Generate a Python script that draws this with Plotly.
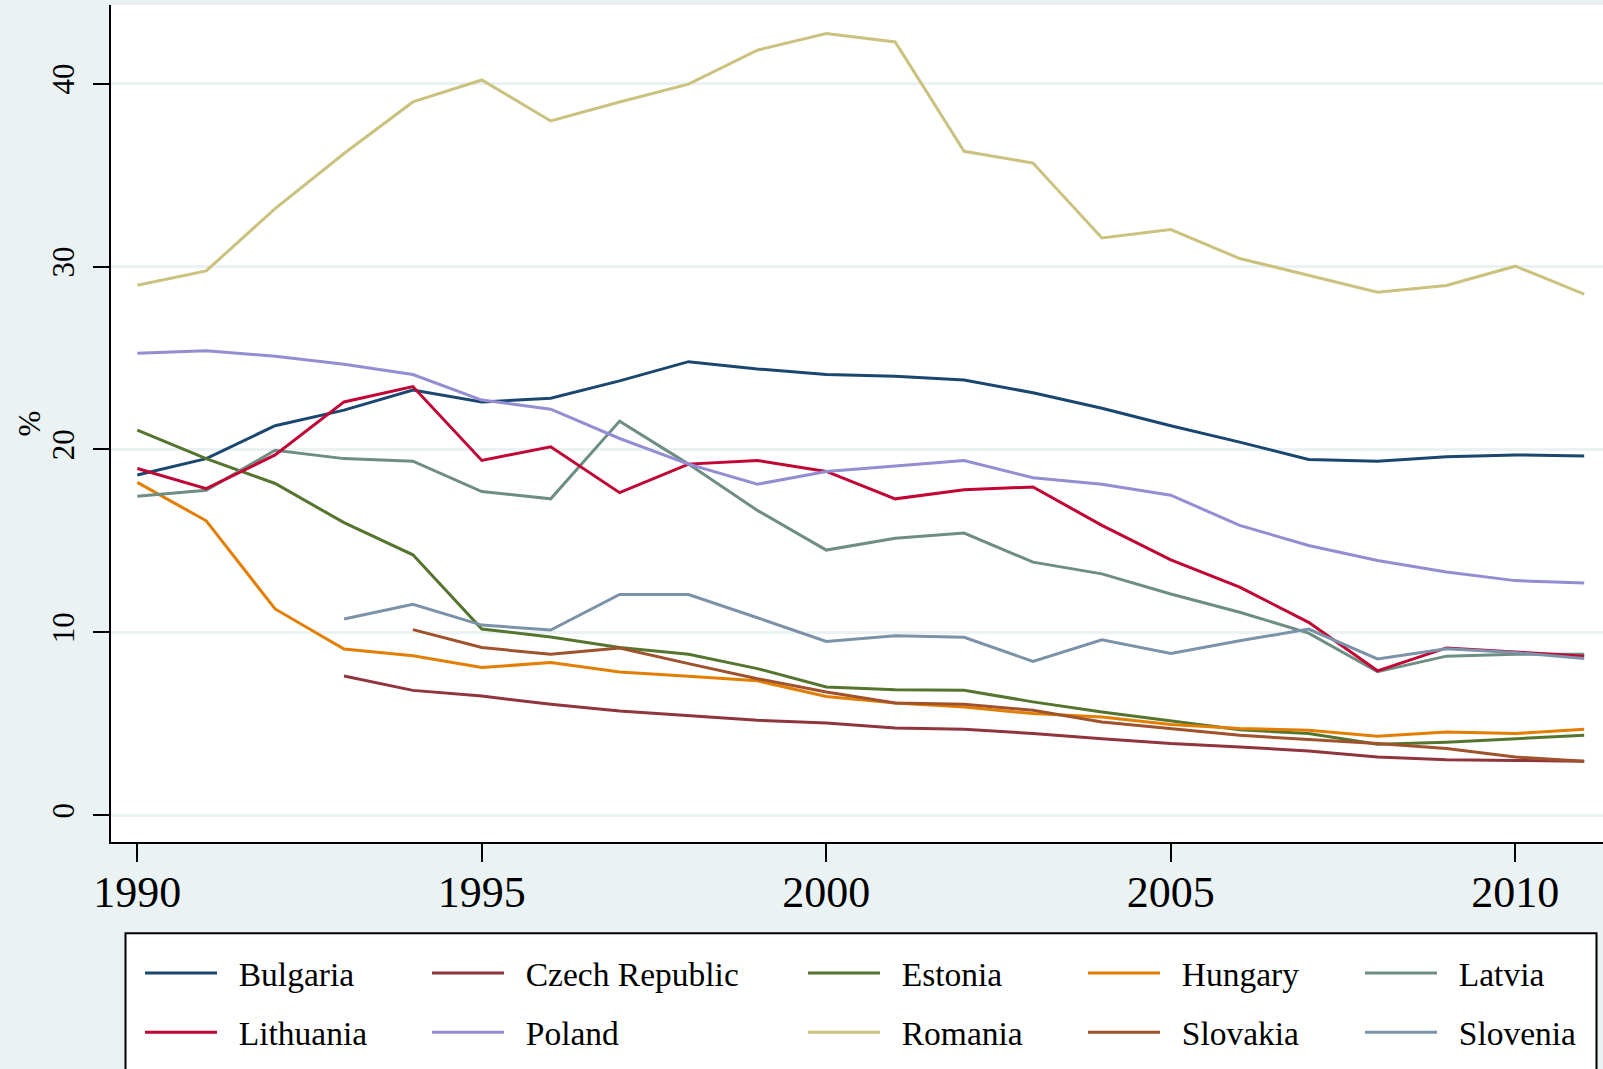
import plotly.graph_objects as go

years = list(range(1990, 2012))

bulgaria = [18.6, 19.5, 21.3, 22.15, 23.25, 22.6, 22.8, 23.75, 24.8, 24.4, 24.1,
            24.0, 23.8, 23.1, 22.25, 21.3, 20.4, 19.45, 19.36, 19.6, 19.7, 19.65]
czech = [None, None, None, 7.62, 6.83, 6.52, 6.07, 5.7, 5.43, 5.19, 5.05,
         4.77, 4.7, 4.47, 4.19, 3.92, 3.74, 3.52, 3.19, 3.04, 3.0, 2.95]
estonia = [21.06, 19.5, 18.14, 16.0, 14.24, 10.18, 9.75, 9.17, 8.8, 8.02, 7.02,
           6.87, 6.83, 6.2, 5.65, 5.16, 4.68, 4.47, 3.88, 4.0, 4.19, 4.37]
hungary = [18.2, 16.1, 11.28, 9.09, 8.72, 8.08, 8.35, 7.84, 7.6, 7.35, 6.5,
           6.14, 5.92, 5.56, 5.38, 4.97, 4.74, 4.65, 4.32, 4.56, 4.47, 4.7]
latvia = [17.44, 17.77, 19.96, 19.5, 19.36, 17.7, 17.3, 21.55, 19.2, 16.67, 14.5,
          15.15, 15.43, 13.84, 13.2, 12.1, 11.1, 9.96, 7.85, 8.7, 8.8, 8.8]
lithuania = [18.96, 17.86, 19.7, 22.6, 23.44, 19.4, 20.15, 17.64, 19.2, 19.4, 18.8,
             17.3, 17.8, 17.95, 15.85, 13.97, 12.47, 10.55, 7.9, 9.15, 8.93, 8.7]
poland = [25.26, 25.4, 25.1, 24.66, 24.1, 22.7, 22.2, 20.6, 19.2, 18.1, 18.8,
          19.1, 19.4, 18.45, 18.1, 17.5, 15.85, 14.75, 13.93, 13.3, 12.83, 12.7]
romania = [28.98, 29.76, 33.17, 36.18, 39.0, 40.2, 37.96, 39.0, 39.97, 41.83, 42.74,
           42.28, 36.3, 35.66, 31.56, 32.02, 30.44, 29.52, 28.6, 28.97, 30.02, 28.49]
slovakia = [None, None, None, None, 10.15, 9.17, 8.8, 9.15, 8.29, 7.47, 6.74,
            6.14, 6.07, 5.74, 5.1, 4.74, 4.37, 4.14, 3.92, 3.65, 3.19, 2.95]
slovenia = [None, None, None, 10.73, 11.54, 10.4, 10.13, 12.07, 12.07, 10.8, 9.5,
            9.82, 9.73, 8.41, 9.6, 8.85, 9.54, 10.18, 8.55, 9.1, 8.9, 8.57]

countries = ['Bulgaria', 'Czech Republic', 'Estonia', 'Hungary', 'Latvia',
             'Lithuania', 'Poland', 'Romania', 'Slovakia', 'Slovenia']
series = [bulgaria, czech, estonia, hungary, latvia,
          lithuania, poland, romania, slovakia, slovenia]
colors = ['#1A476F', '#90353B', '#55752F', '#E37E00', '#6E8E84',
          '#C10534', '#938DD2', '#CAC27E', '#A0522D', '#7B92A8']

BG = '#EAF2F3'
FONT = 'Liberation Serif, Times New Roman, serif'
PAD = '\u00a0\u00a0'  # a little air between legend key and label

# plot area in pixels
W, H = 1603, 1069
L, R, T, B = 111, 0, 5, 227.3
pw, ph = W - L - R, H - T - B

# legend columns (symbol start, px) and rows (centre, px)
col_px = [146, 433, 809, 1089, 1366]
row_px = [973, 1032]

fig = go.Figure()
layout_legends = {}
for i, (name, vals, c) in enumerate(zip(countries, series, colors)):
    key = 'legend' if i == 0 else f'legend{i + 1}'
    fig.add_trace(go.Scatter(
        x=years, y=vals, mode='lines', name=PAD + name,
        line=dict(color=c, width=3),
        legend=key,
    ))
    col, row = i % 5, i // 5
    layout_legends[key] = dict(
        x=(col_px[col] - L - 6) / pw,
        y=(ph + T - row_px[row]) / ph,
        xanchor='left', yanchor='middle',
        orientation='v',
        bgcolor='rgba(0,0,0,0)',
        borderwidth=0,
        itemwidth=72,
        font=dict(family=FONT, size=33.5, color='black'),
    )

fig.update_layout(
    width=W, height=H,
    margin=dict(l=L, r=R, t=T, b=B, pad=0),
    paper_bgcolor=BG,
    plot_bgcolor='white',
    showlegend=True,
    font=dict(family=FONT, color='black'),
    xaxis=dict(
        range=[1989.618, 2011.273],
        tickvals=[1990, 1995, 2000, 2005, 2010],
        ticks='outside', ticklen=18, tickwidth=2, tickcolor='black',
        showline=True, linecolor='black', linewidth=2,
        showgrid=False, zeroline=False,
        tickfont=dict(family=FONT, size=44),
        ticklabelstandoff=-8,
    ),
    yaxis=dict(
        range=[-1.46, 44.3],
        tickvals=[0, 10, 20, 30, 40],
        tickangle=-90,
        ticks='outside', ticklen=16, tickwidth=2, tickcolor='black',
        showline=True, linecolor='black', linewidth=2,
        showgrid=True, gridcolor=BG, gridwidth=3, zeroline=False,
        tickfont=dict(family=FONT, size=31),
        ticklabelstandoff=7,
    ),
    **layout_legends,
)

# y-axis title
fig.add_annotation(
    text='%', xref='paper', yref='paper',
    x=(29 - L) / pw, y=0.5, xanchor='center', yanchor='middle',
    textangle=-90, showarrow=False,
    font=dict(family=FONT, size=31, color='black'),
)

# legend frame (runs off the bottom of the picture, like the reference)
fig.add_shape(
    type='rect', xref='paper', yref='paper',
    x0=(125.5 - L) / pw, x1=(1596.5 - L) / pw,
    y0=(ph + T - 933) / ph, y1=(ph + T - 1100) / ph,
    line=dict(color='black', width=2), fillcolor='white', layer='below',
)

# drop the default page margin so the figure fills the window
fig.write_html("out.html", config={'displayModeBar': False},
               post_script="document.body.style.margin='0';")
